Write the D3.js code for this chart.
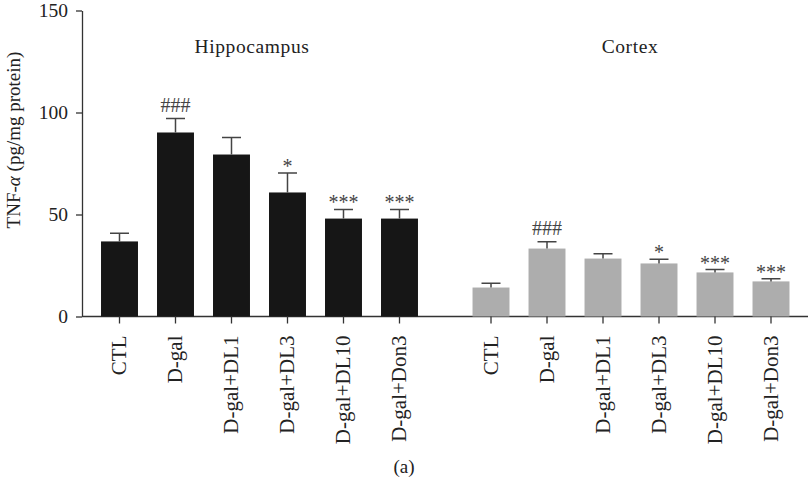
<!DOCTYPE html>
<html>
<head>
<meta charset="utf-8">
<script src="https://d3js.org/d3.v7.min.js"></script>
<style>
  body { margin: 0; background: #fff; }
  text { font-family: "Liberation Serif", "Times New Roman", serif; }
</style>
</head>
<body>
<svg id="chart" width="809" height="478"></svg>
<script>
// data
const groups = ["Hippocampus", "Cortex"];
const categories = ["CTL", "D-gal", "D-gal+DL1", "D-gal+DL3", "D-gal+DL10", "D-gal+Don3"];
const hippoMean = [36.8, 90.2, 79.4, 60.8, 48.0, 48.0];
const hippoSem = [4.0, 6.8, 8.3, 9.6, 4.5, 4.5];
const cortexMean = [14.2, 33.3, 28.4, 26.0, 21.6, 17.2];
const cortexSem = [2.1, 3.3, 2.3, 2.1, 1.4, 1.3];
const marks = ["", "###", "", "*", "***", "***"];
const yTicks = [0, 50, 100, 150];

const groupColour = { Hippocampus: "#161616", Cortex: "#adadad" };
const groupData = {
  Hippocampus: categories.map((c, i) => ({ cat: c, mean: hippoMean[i], sem: hippoSem[i], mark: marks[i] })),
  Cortex: categories.map((c, i) => ({ cat: c, mean: cortexMean[i], sem: cortexSem[i], mark: marks[i] })),
};

const svg = d3.select("#chart");
const axisX = 82, baseY = 316.5;

const y = d3.scaleLinear().domain([0, 150]).range([baseY, 10.5]);

const gx = d3.scaleBand().domain(groups).range([91.5, 799]).paddingInner(0.0956);
const x = d3.scaleBand().domain(categories).range([0, gx.bandwidth()])
  .paddingInner(0.34).paddingOuter(0.17);

// y axis
const yAxis = svg.append("g")
  .attr("transform", `translate(${axisX},0)`)
  .call(d3.axisLeft(y).tickValues(yTicks).tickSize(6).tickPadding(8).tickSizeOuter(0));
yAxis.select(".domain").attr("stroke", "#333").attr("stroke-width", 1.3);
yAxis.selectAll(".tick line").attr("stroke", "#333").attr("stroke-width", 1.3);
yAxis.selectAll(".tick text").attr("font-size", 19.5).attr("fill", "#222")
  .style("font-family", "Liberation Serif");

svg.append("text")
  .attr("transform", `translate(20,140) rotate(-90)`)
  .attr("text-anchor", "middle")
  .attr("font-size", 19)
  .attr("fill", "#222")
  .html('TNF-<tspan font-style="italic">α</tspan> (pg/mg protein)');

// x baseline
svg.append("line")
  .attr("x1", axisX).attr("x2", 808)
  .attr("y1", baseY).attr("y2", baseY)
  .attr("stroke", "#333").attr("stroke-width", 1.3);

groups.forEach(gname => {
  const g = svg.append("g").attr("transform", `translate(${gx(gname)},0)`);
  const data = groupData[gname];

  g.selectAll("rect")
    .data(data)
    .join("rect")
    .attr("x", d => x(d.cat))
    .attr("width", x.bandwidth())
    .attr("y", d => y(d.mean))
    .attr("height", d => y(0) - y(d.mean))
    .attr("fill", groupColour[gname]);

  const cx = d => x(d.cat) + x.bandwidth() / 2;
  g.selectAll(".err")
    .data(data)
    .join("path")
    .attr("class", "err")
    .attr("fill", "none")
    .attr("stroke", "#444")
    .attr("stroke-width", 1.5)
    .attr("d", d => `M${cx(d)},${y(d.mean)}V${y(d.mean + d.sem)}M${cx(d) - 9.5},${y(d.mean + d.sem)}H${cx(d) + 9.5}`);

  g.selectAll(".mark")
    .data(data.filter(d => d.mark))
    .join("text")
    .attr("class", "mark")
    .attr("x", cx)
    .attr("y", d => y(d.mean + d.sem) - (d.mark[0] === "#" ? 7 : 0))
    .attr("text-anchor", "middle")
    .attr("font-size", 20)
    .attr("fill", "#444")
    .text(d => d.mark);

  const xa = g.append("g")
    .attr("transform", `translate(0,${baseY})`)
    .call(d3.axisBottom(x).tickSize(7).tickSizeOuter(0));
  xa.select(".domain").remove();
  xa.selectAll(".tick line").attr("stroke", "#333").attr("stroke-width", 1.3);
  xa.selectAll(".tick text")
    .attr("font-size", 21)
    .attr("fill", "#222")
    .style("font-family", "Liberation Serif")
    .attr("text-anchor", "end")
    .attr("transform", "rotate(-90)")
    .attr("x", -19)
    .attr("y", 0)
    .attr("dy", "0.33em");

  svg.append("text")
    .attr("x", gname === "Hippocampus" ? 252 : 630)
    .attr("y", 53)
    .attr("text-anchor", "middle")
    .attr("font-size", 19.5)
    .attr("letter-spacing", 0.6)
    .attr("fill", "#222")
    .text(gname);
});

svg.append("text")
  .attr("x", 404).attr("y", 473)
  .attr("text-anchor", "middle")
  .attr("font-size", 19)
  .attr("fill", "#222")
  .text("(a)");
</script>
</body>
</html>
